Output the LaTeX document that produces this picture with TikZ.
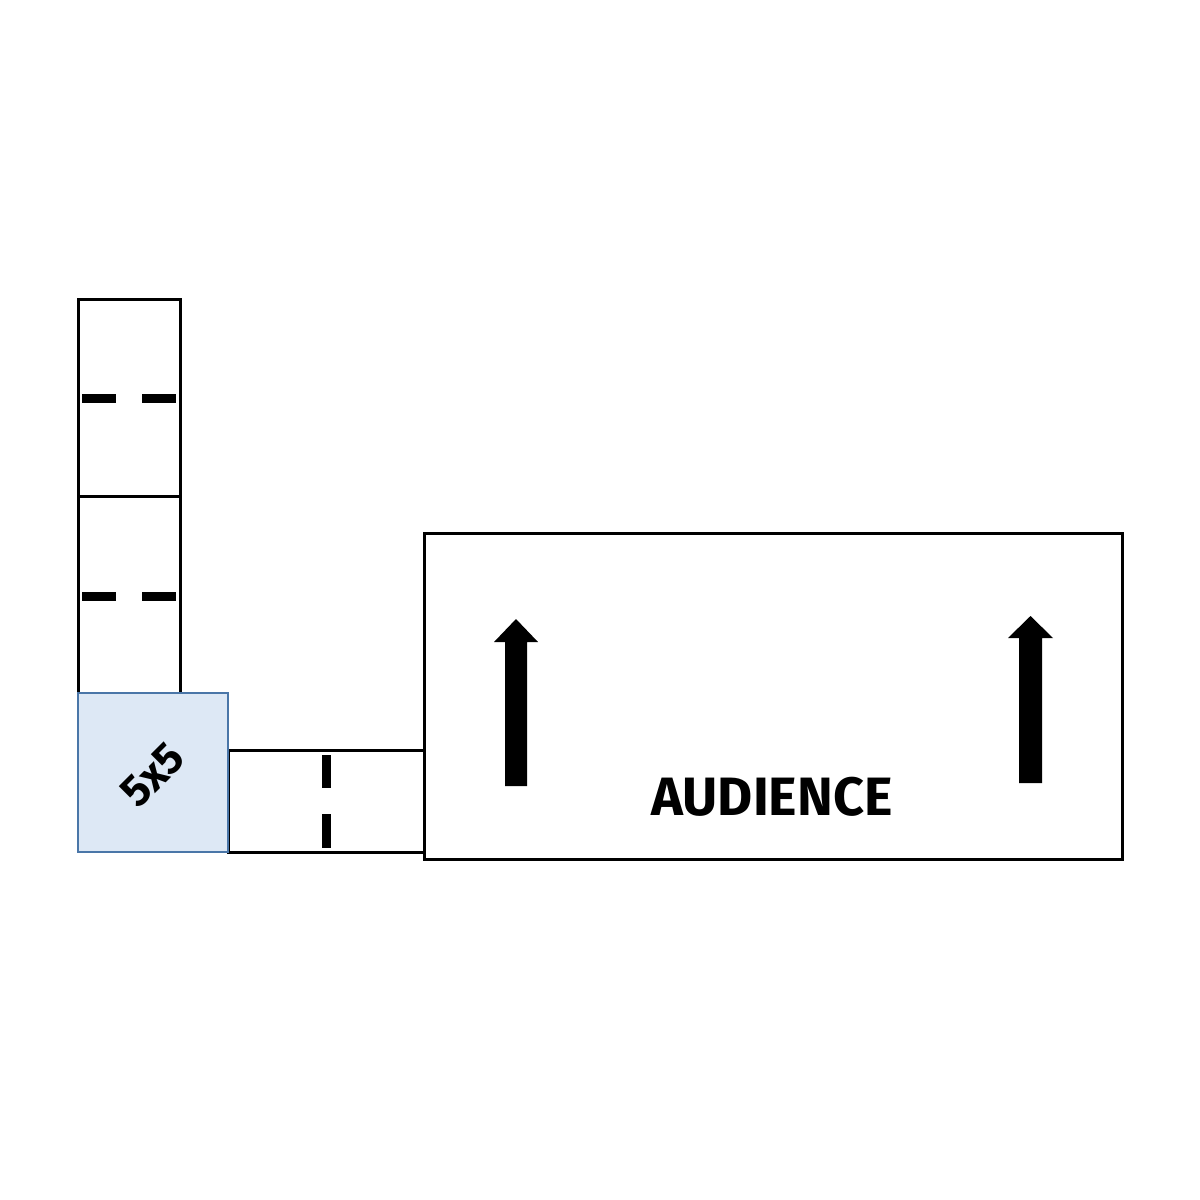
\documentclass[tikz,border=0pt]{standalone}
\usepackage{fontspec}
\setmainfont{Fira Sans}
\begin{document}
\begin{tikzpicture}[x=1pt,y=-1pt,
  panel/.style={draw=black, line width=3pt, fill=white, anchor=north west, inner sep=0pt, outer sep=0pt},
  bluebox/.style={draw={rgb,255:red,74;green,118;blue,168}, line width=2.5pt, fill={rgb,255:red,221;green,232;blue,245}, anchor=north west, inner sep=0pt, outer sep=0pt},
  dashbar/.style={fill=black, draw=none},
  bigarrow/.style={fill=black, draw=none}]
\useasboundingbox (0,0) rectangle (1200,1200);
% column boxes
\node[panel, minimum width=102pt, minimum height=197pt] (top) at (78,299) {};
\node[panel, minimum width=102pt, minimum height=197pt] (mid) at (78,496) {};
% strip
\node[panel, minimum width=196pt, minimum height=102pt] (strip) at (228,750) {};
% audience
\node[panel, minimum width=698pt, minimum height=326pt] (aud) at (424,533) {};
% 5x5
\node[bluebox, minimum width=150pt, minimum height=159pt] (five) at (78,693) {};
\node[rotate=45, inner sep=0pt, font=\bfseries\fontsize{44}{44}\selectfont] (fivetxt) at (153,775) {5x5};
% dashes
\fill[dashbar] (82,394) rectangle (116,403);
\fill[dashbar] (142,394) rectangle (176,403);
\fill[dashbar] (82,592) rectangle (116,601);
\fill[dashbar] (142,592) rectangle (176,601);
\fill[dashbar] (322,755) rectangle (331,788);
\fill[dashbar] (322,814) rectangle (331,848);
% arrows
\fill[bigarrow] (505,786) -- (505,642) -- (494,642) -- (516,619) -- (538,642) -- (527,642) -- (527,786) -- cycle;
\fill[bigarrow] (1019,783) -- (1019,638) -- (1008,638) -- (1030.5,616) -- (1053,638) -- (1042,638) -- (1042,783) -- cycle;
% label
\node[font=\bfseries\fontsize{54}{54}\selectfont, inner sep=0pt, anchor=base] (audtxt) at (772,815) {AUDIENCE};
\end{tikzpicture}
\end{document}
